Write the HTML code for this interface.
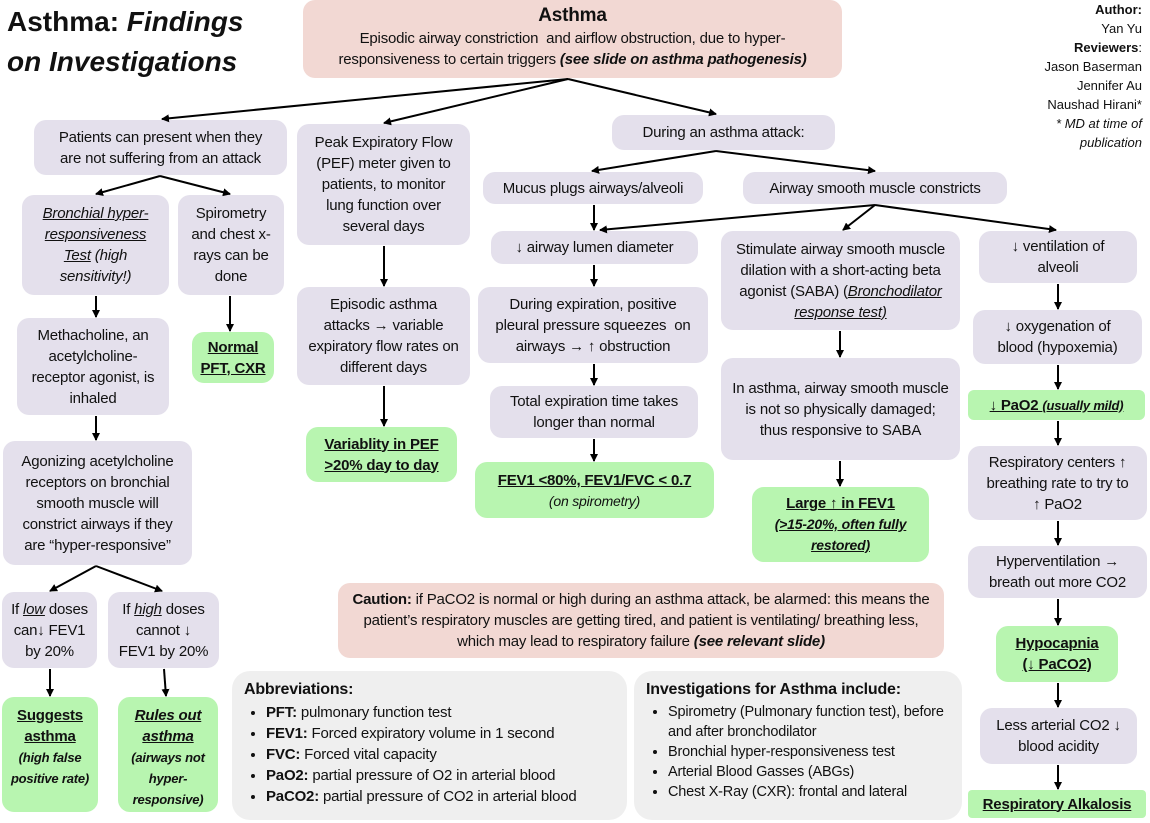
<!DOCTYPE html>
<html><head><meta charset="utf-8"><style>
body{margin:0;width:1150px;height:823px;background:#fff;position:relative;overflow:hidden;font-family:"Liberation Sans",sans-serif;color:#111}
.b{position:absolute;box-sizing:border-box;display:flex;align-items:center;justify-content:center;text-align:center;font-size:15px;line-height:21px;border-radius:12px;background:#e4e0ec;padding:2px 4px;letter-spacing:-0.2px}
.g{background:#b8f5b0;font-weight:bold;font-size:15px}
.p{background:#f2d8d3}
.gr{background:#efefef;border-radius:18px;justify-content:flex-start;align-items:flex-start;text-align:left;display:block;padding:8px 12px}
.gr ul{margin:2px 0 0 0;padding-left:22px;font-size:15px;line-height:21px}
u{text-decoration:underline}
svg{position:absolute;left:0;top:0}
</style></head><body>
<div style="position:absolute;left:7px;top:2px;font-size:28px;font-weight:bold;line-height:40px">Asthma: <i>Findings<br>on Investigations</i></div>
<div style="position:absolute;right:8px;top:0;text-align:right;font-size:13px;line-height:19px"><b>Author:</b><br>Yan Yu<br><b>Reviewers</b>:<br>Jason Baserman<br>Jennifer Au<br>Naushad Hirani*<br><i>* MD at time of<br>publication</i></div>
<div class="b p" style="left:303px;top:0;width:539px;height:78px;display:block;padding:4px 20px 0"><b style="font-size:19px;line-height:24px">Asthma</b><br>Episodic airway constriction &nbsp;and airflow obstruction, due to hyper-responsiveness to certain triggers <b><i>(see slide on asthma pathogenesis)</i></b></div>
<div class="b" style="left:34px;top:120px;width:253px;height:55px;padding:2px 14px"><span>Patients can present when they are not suffering from an attack</span></div>
<div class="b" style="left:22px;top:195px;width:147px;height:100px;padding:2px 8px"><i><u>Bronchial hyper-responsiveness Test</u> (high sensitivity!)</i></div>
<div class="b" style="left:178px;top:195px;width:106px;height:100px;padding:2px 10px"><span>Spirometry and chest x-rays can be done</span></div>
<div class="b g" style="left:192px;top:332px;width:82px;height:51px"><u>Normal PFT, CXR</u></div>
<div class="b" style="left:17px;top:318px;width:152px;height:97px;padding:2px 12px"><span>Methacholine, an acetylcholine-receptor agonist, is inhaled</span></div>
<div class="b" style="left:3px;top:441px;width:189px;height:124px;padding:2px 8px"><span>Agonizing acetylcholine receptors on bronchial smooth muscle will constrict airways if they are “hyper-responsive”</span></div>
<div class="b" style="left:2px;top:592px;width:95px;height:76px;padding:2px 8px"><span>If <i><u>low</u></i> doses can↓ FEV1 by 20%</span></div>
<div class="b" style="left:108px;top:592px;width:111px;height:76px;padding:2px 8px"><span>If <i><u>high</u></i> doses cannot ↓ FEV1 by 20%</span></div>
<div class="b g" style="left:2px;top:697px;width:96px;height:115px;display:block;padding-top:8px"><u>Suggests asthma</u><br><i style="font-size:13px;line-height:19px">(high false positive rate)</i></div>
<div class="b g" style="left:118px;top:697px;width:100px;height:115px;display:block;padding-top:8px"><i><u>Rules out asthma</u></i><br><i style="font-size:13px;line-height:19px">(airways not hyper-responsive)</i></div>
<div class="b" style="left:297px;top:124px;width:173px;height:121px;padding:2px 10px"><span>Peak Expiratory Flow (PEF) meter given to patients, to monitor lung function over several days</span></div>
<div class="b" style="left:297px;top:287px;width:173px;height:98px;padding:2px 10px"><span>Episodic asthma attacks → variable expiratory flow rates on different days</span></div>
<div class="b g" style="left:306px;top:427px;width:151px;height:55px"><u>Variablity in PEF &gt;20% day to day</u></div>
<div class="b" style="left:612px;top:115px;width:223px;height:35px"><span>During an asthma attack:</span></div>
<div class="b" style="left:483px;top:172px;width:220px;height:32px"><span>Mucus plugs airways/alveoli</span></div>
<div class="b" style="left:743px;top:172px;width:264px;height:32px"><span>Airway smooth muscle constricts</span></div>
<div class="b" style="left:491px;top:231px;width:207px;height:33px"><span>↓ airway lumen diameter</span></div>
<div class="b" style="left:478px;top:287px;width:230px;height:76px;padding:2px 8px"><span>During expiration, positive pleural pressure squeezes &nbsp;on airways → ↑ obstruction</span></div>
<div class="b" style="left:490px;top:386px;width:208px;height:52px;padding:2px 12px"><span>Total expiration time takes longer than normal</span></div>
<div class="b g" style="left:475px;top:462px;width:239px;height:56px;display:block;padding-top:8px"><u>FEV1 &lt;80%, FEV1/FVC &lt; 0.7</u><br><i style="font-weight:normal;font-size:14px">(on spirometry)</i></div>
<div class="b" style="left:721px;top:231px;width:239px;height:99px;padding:2px 12px"><span>Stimulate airway smooth muscle dilation with a short-acting beta agonist (SABA) (<i><u>Bronchodilator response test)</u></i></span></div>
<div class="b" style="left:721px;top:358px;width:239px;height:102px;padding:2px 10px"><span>In asthma, airway smooth muscle is not so physically damaged; thus responsive to SABA</span></div>
<div class="b g" style="left:752px;top:487px;width:177px;height:75px;display:block;padding-top:6px"><u>Large ↑ in FEV1</u><br><i style="font-size:14px;line-height:20px"><u>(&gt;15-20%, often fully restored)</u></i></div>
<div class="b" style="left:979px;top:231px;width:158px;height:52px;padding:2px 14px"><span>↓ ventilation of alveoli</span></div>
<div class="b" style="left:973px;top:310px;width:169px;height:54px;padding:2px 12px"><span>↓ oxygenation of blood (hypoxemia)</span></div>
<div class="b g" style="left:968px;top:390px;width:177px;height:30px;border-radius:6px"><u>↓ PaO2 <i style="font-size:13px">(usually mild)</i></u></div>
<div class="b" style="left:968px;top:446px;width:179px;height:74px;padding:2px 14px"><span>Respiratory centers ↑ breathing rate to try to ↑ PaO2</span></div>
<div class="b" style="left:968px;top:546px;width:179px;height:52px;padding:2px 10px"><span>Hyperventilation → breath out more CO2</span></div>
<div class="b g" style="left:996px;top:626px;width:122px;height:56px;padding:2px 12px"><u>Hypocapnia (↓ PaCO2)</u></div>
<div class="b" style="left:980px;top:708px;width:157px;height:56px;padding:2px 10px"><span>Less arterial CO2 ↓ blood acidity</span></div>
<div class="b g" style="left:968px;top:790px;width:178px;height:28px;border-radius:4px"><u>Respiratory Alkalosis</u></div>
<div class="b p" style="left:338px;top:583px;width:606px;height:75px;padding:2px 14px"><span><b>Caution:</b> if PaCO2 is normal or high during an asthma attack, be alarmed: this means the patient’s respiratory muscles are getting tired, and patient is ventilating/ breathing less, which may lead to respiratory failure <b><i>(see relevant slide)</i></b></span></div>
<div class="b gr" style="left:232px;top:671px;width:395px;height:149px"><b style="font-size:16px">Abbreviations:</b><ul><li><b>PFT:</b> pulmonary function test</li><li><b>FEV1:</b> Forced expiratory volume in 1 second</li><li><b>FVC:</b> Forced vital capacity</li><li><b>PaO2:</b> partial pressure of O2 in arterial blood</li><li><b>PaCO2:</b> partial pressure of CO2 in arterial blood</li></ul></div>
<div class="b gr" style="left:634px;top:671px;width:328px;height:149px"><b style="font-size:16px">Investigations for Asthma include:</b><ul style="font-size:14.5px;line-height:20px"><li>Spirometry (Pulmonary function test), before and after bronchodilator</li><li>Bronchial hyper-responsiveness test</li><li>Arterial Blood Gasses (ABGs)</li><li>Chest X-Ray (CXR): frontal and lateral</li></ul></div>
<svg width="1150" height="823"><defs><marker id="a" markerWidth="8" markerHeight="8" refX="7" refY="4" orient="auto" markerUnits="userSpaceOnUse"><path d="M0,0L8,4L0,8z" fill="#000"/></marker></defs>
<g stroke="#000" stroke-width="2" fill="none" marker-end="url(#a)">
<path d="M568,79L162,119"/><path d="M568,79L384,123"/><path d="M568,79L716,114"/>
<path d="M160,176L96,194"/><path d="M160,176L230,194"/>
<path d="M230,296L230,331"/><path d="M96,296L96,317"/><path d="M96,416L96,440"/>
<path d="M96,566L50,591"/><path d="M96,566L162,591"/>
<path d="M50,669L50,696"/><path d="M164,669L166,696"/>
<path d="M384,246L384,286"/><path d="M384,386L384,426"/>
<path d="M716,151L592,171"/><path d="M716,151L875,171"/>
<path d="M594,205L594,230"/><path d="M875,205L600,230"/><path d="M875,205L843,230"/><path d="M875,205L1056,230"/>
<path d="M594,265L594,286"/><path d="M594,364L594,385"/><path d="M594,439L594,461"/>
<path d="M840,331L840,357"/><path d="M840,461L840,486"/>
<path d="M1058,284L1058,309"/><path d="M1058,365L1058,389"/><path d="M1058,421L1058,445"/>
<path d="M1058,521L1058,545"/><path d="M1058,599L1058,625"/><path d="M1058,683L1058,707"/><path d="M1058,765L1058,789"/>
</g></svg>
</body></html>
